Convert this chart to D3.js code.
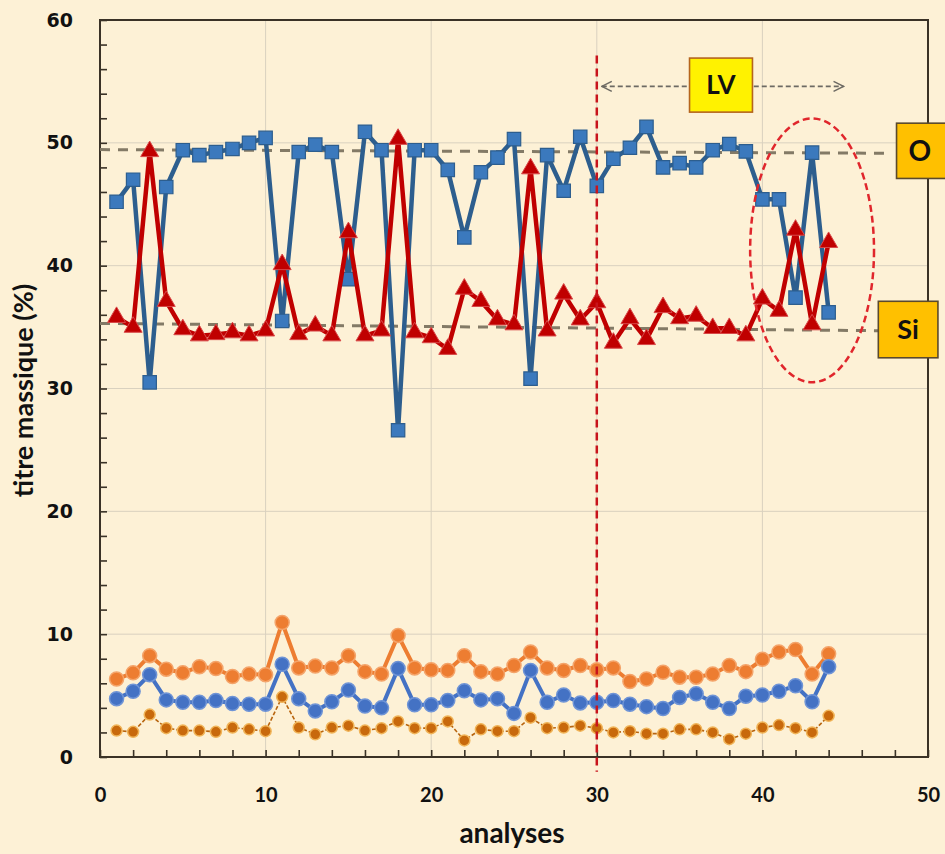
<!DOCTYPE html>
<html lang="fr">
<head>
<meta charset="UTF-8">
<title>titre massique</title>
<script src="https://cdn.jsdelivr.net/npm/d3@7"></script>
<style>
  body { margin: 0; background: #fdf1d6; }
  svg { display: block; }
</style>
</head>
<body>
<div id="chart"></div>
<script>
// numero d'analyse
const analyses = d3.range(1, 45);

// O et Si (haut du graphe)
const oxygene = [45.2, 47.0, 30.5, 46.4, 49.4, 49.0, 49.25, 49.5, 50.0, 50.4, 35.5, 49.25, 49.85, 49.25, 38.9,
  50.9, 49.4, 26.6, 49.4, 49.4, 47.8, 42.3, 47.6, 48.8, 50.3, 30.8, 49.0, 46.1, 50.5, 46.5,
  48.7, 49.6, 51.3, 48.0, 48.35, 48.0, 49.4, 49.9, 49.3, 45.4, 45.4, 37.4, 49.2, 36.2];
const silicium = [35.8, 35.0, 49.3, 37.1, 34.8, 34.3, 34.4, 34.55, 34.3, 34.7, 40.1, 34.4, 35.1, 34.3, 42.7,
  34.3, 34.7, 50.3, 34.55, 34.15, 33.2, 38.1, 37.1, 35.6, 35.2, 47.9, 34.7, 37.7, 35.6, 37.0,
  33.7, 35.7, 34.0, 36.6, 35.7, 35.9, 34.9, 34.9, 34.3, 37.3, 36.3, 42.9, 35.2, 41.9];

// les trois series du bas
const serieOrange = [6.35, 6.85, 8.25, 7.15, 6.85, 7.35, 7.2, 6.55, 6.75, 6.7, 10.95, 7.25, 7.4, 7.25, 8.25,
  6.95, 6.75, 9.9, 7.25, 7.1, 7.05, 8.25, 6.95, 6.75, 7.45, 8.55, 7.25, 7.05, 7.45, 7.1,
  7.25, 6.15, 6.35, 6.9, 6.5, 6.5, 6.75, 7.45, 6.95, 7.95, 8.55, 8.75, 6.75, 8.4];
const serieBleue = [4.75, 5.35, 6.7, 4.65, 4.45, 4.45, 4.6, 4.35, 4.3, 4.3, 7.55, 4.75, 3.75, 4.5, 5.45,
  4.15, 4.0, 7.2, 4.25, 4.25, 4.6, 5.4, 4.65, 4.75, 3.55, 7.05, 4.45, 5.05, 4.4, 4.45,
  4.6, 4.3, 4.1, 3.95, 4.85, 5.15, 4.45, 3.95, 4.95, 5.05, 5.35, 5.8, 4.5, 7.35];
const serieBrune = [2.15, 2.05, 3.45, 2.35, 2.15, 2.15, 2.05, 2.4, 2.25, 2.1, 4.9, 2.4, 1.85, 2.4, 2.55,
  2.15, 2.35, 2.9, 2.35, 2.35, 2.9, 1.35, 2.25, 2.1, 2.1, 3.2, 2.35, 2.4, 2.55, 2.35,
  2.0, 2.1, 1.9, 1.9, 2.25, 2.25, 2.0, 1.45, 1.9, 2.4, 2.6, 2.35, 2.0, 3.35];

const xTicks = [0, 10, 20, 30, 40, 50];
const yTicks = [0, 10, 20, 30, 40, 50, 60];

// lignes moyennes (tirets gris)
const tendanceO = [[0, 49.45], [47.8, 49.15]];
const tendanceSi = [[0, 35.3], [47.3, 34.7]];
// limite LV
const limiteLV = [[30, 57.1], [30, -1.2]];
const flecheLV = [[30.3, 54.6], [44.9, 54.6]];
const boiteLV = {x0: 35.6, x1: 39.4, y0: 52.5, y1: 56.9, label: "LV"};
const boiteO = {x0: 48.1, x1: 51.5, y0: 47.1, y1: 51.6, label: "O"};
const boiteSi = {x0: 47.0, x1: 50.6, y0: 32.5, y1: 37.1, label: "Si"};
const ellipse = {cx: 43.0, cy: 41.25, rx: 3.74, ry: 10.74};

const w = 945;
const h = 854;
const mLeft = 100, mRight = 928, mTop = 20, mBottom = 757;

const x = d3.scaleLinear().domain([0, 50]).range([mLeft, mRight]);
const y = d3.scaleLinear().domain([0, 60]).range([mBottom, mTop]);

const svg = d3.select("#chart").append("svg")
  .attr("width", w)
  .attr("height", h);

svg.append("rect").attr("width", w).attr("height", h).attr("fill", "#fdf1d6");

// grille
svg.append("g").selectAll("line")
  .data(xTicks.slice(1, -1))
  .join("line")
  .attr("x1", d => x(d)).attr("x2", d => x(d))
  .attr("y1", mTop).attr("y2", mBottom)
  .attr("stroke", "#d9d1bf").attr("stroke-width", 1);
svg.append("g").selectAll("line")
  .data(yTicks.slice(1, -1))
  .join("line")
  .attr("x1", mLeft).attr("x2", mRight)
  .attr("y1", d => y(d)).attr("y2", d => y(d))
  .attr("stroke", "#d9d1bf").attr("stroke-width", 1);

// axes
const xAxis = d3.axisBottom(x)
  .tickValues(d3.range(0, 51, 2))
  .tickSizeInner(-7).tickSizeOuter(0)
  .tickPadding(31)
  .tickFormat(d => d % 10 === 0 ? d : "");
const yAxis = d3.axisLeft(y)
  .tickValues(d3.range(0, 61, 2))
  .tickSizeInner(-7).tickSizeOuter(0)
  .tickPadding(27)
  .tickFormat(d => d % 10 === 0 ? d : "");

const gx = svg.append("g").attr("transform", "translate(0," + mBottom + ")").call(xAxis);
const gy = svg.append("g").attr("transform", "translate(" + mLeft + ",0)").call(yAxis);
gx.select(".domain").remove();
gy.select(".domain").remove();
gx.selectAll("line").attr("stroke", "#3a3226").attr("stroke-width", 1.6);
gy.selectAll("line").attr("stroke", "#3a3226").attr("stroke-width", 1.6);
gx.selectAll("text")
  .attr("font-family", "Lato, sans-serif").attr("font-weight", "bold")
  .attr("font-size", 20).attr("fill", "#111");
gy.selectAll("text")
  .attr("font-family", "'DejaVu Sans', sans-serif").attr("font-weight", "bold")
  .attr("font-size", 19).attr("fill", "#111");

// cadre
svg.append("rect")
  .attr("x", mLeft).attr("y", mTop)
  .attr("width", mRight - mLeft).attr("height", mBottom - mTop)
  .attr("fill", "none").attr("stroke", "#3a3226").attr("stroke-width", 2);

// titres
svg.append("text")
  .attr("x", (mLeft + mRight) / 2 - 2).attr("y", 843)
  .attr("text-anchor", "middle")
  .attr("font-family", "Lato, sans-serif").attr("font-weight", "bold")
  .attr("font-size", 28).attr("fill", "#111")
  .text("analyses");
svg.append("text")
  .attr("transform", "translate(33," + ((mTop + mBottom) / 2 + 2) + ") rotate(-90)")
  .attr("text-anchor", "middle")
  .attr("font-family", "Lato, sans-serif").attr("font-weight", "bold")
  .attr("font-size", 27).attr("fill", "#111")
  .text("titre massique (%)");

const line = d3.line().x(d => x(d[0])).y(d => y(d[1]));
const pts = vals => analyses.map((a, i) => [a, vals[i]]);

// tendances
[tendanceO, tendanceSi].forEach(t => {
  svg.append("path").attr("d", line(t))
    .attr("fill", "none").attr("stroke", "#837a66")
    .attr("stroke-width", 3).attr("stroke-dasharray", "10,8");
});

// series du bas
function serieRonds(vals, color, width, r, fill, stroke, dash) {
  const g = svg.append("g");
  g.append("path").attr("d", line(pts(vals)))
    .attr("fill", "none").attr("stroke", color)
    .attr("stroke-width", width)
    .attr("stroke-dasharray", dash || null)
    .attr("stroke-linejoin", "round");
  g.selectAll("circle").data(pts(vals)).join("circle")
    .attr("cx", d => x(d[0])).attr("cy", d => y(d[1]))
    .attr("r", r).attr("fill", fill)
    .attr("stroke", stroke).attr("stroke-width", 1.5);
}
serieRonds(serieOrange, "#ed7d31", 4, 7, "#ed7d31", "#f4a46a");
serieRonds(serieBleue, "#4472c4", 4, 7, "#4472c4", "#6f94d6");
serieRonds(serieBrune, "#b8650f", 1.6, 5.5, "#c8690c", "#f0b458", "4,2");

// O : carres bleus
const gO = svg.append("g");
gO.append("path").attr("d", line(pts(oxygene)))
  .attr("fill", "none").attr("stroke", "#2d5e8e").attr("stroke-width", 4.5)
  .attr("stroke-linejoin", "round");
gO.selectAll("path.m").data(pts(oxygene)).join("path")
  .attr("class", "m")
  .attr("transform", d => "translate(" + x(d[0]) + "," + y(d[1]) + ")")
  .attr("d", d3.symbol(d3.symbolSquare, 180))
  .attr("fill", "#3b79bd").attr("stroke", "#2d5e8e").attr("stroke-width", 1.2);

// Si : triangles rouges
const gSi = svg.append("g");
gSi.append("path").attr("d", line(pts(silicium)))
  .attr("fill", "none").attr("stroke", "#c00000").attr("stroke-width", 4.5)
  .attr("stroke-linejoin", "round");
gSi.selectAll("path.m").data(pts(silicium)).join("path")
  .attr("class", "m")
  .attr("transform", d => "translate(" + x(d[0]) + "," + y(d[1]) + ")")
  .attr("d", d3.symbol(d3.symbolTriangle, 140))
  .attr("fill", "#c00000").attr("stroke", "#d84848").attr("stroke-width", 1);

// limite LV
svg.append("path").attr("d", line(limiteLV))
  .attr("fill", "none").attr("stroke", "#c8141c")
  .attr("stroke-width", 2.5).attr("stroke-dasharray", "8,5");

// ellipse rouge
svg.append("ellipse")
  .attr("cx", x(ellipse.cx)).attr("cy", y(ellipse.cy))
  .attr("rx", x(ellipse.rx) - x(0)).attr("ry", y(0) - y(ellipse.ry))
  .attr("fill", "none").attr("stroke", "#e0262c")
  .attr("stroke-width", 2.5).attr("stroke-dasharray", "7,4");

// fleche LV
const defs = svg.append("defs");
["debut", "fin"].forEach((id, k) => {
  defs.append("marker")
    .attr("id", id).attr("viewBox", "0 0 12 12")
    .attr("refX", k ? 11 : 1).attr("refY", 6)
    .attr("markerWidth", 12).attr("markerHeight", 12)
    .attr("markerUnits", "userSpaceOnUse")
    .attr("orient", "auto")
    .append("path")
    .attr("d", k ? "M1,1 L11,6 L1,11" : "M11,1 L1,6 L11,11")
    .attr("fill", "none").attr("stroke", "#6d6a63").attr("stroke-width", 1.5);
});
svg.append("path").attr("d", line(flecheLV))
  .attr("fill", "none").attr("stroke", "#6d6a63")
  .attr("stroke-width", 1.6).attr("stroke-dasharray", "5,3")
  .attr("marker-start", "url(#debut)").attr("marker-end", "url(#fin)");

// etiquettes
function boite(b, fill, stroke, size) {
  svg.append("rect")
    .attr("x", x(b.x0)).attr("y", y(b.y1))
    .attr("width", x(b.x1) - x(b.x0)).attr("height", y(b.y0) - y(b.y1))
    .attr("fill", fill).attr("stroke", stroke).attr("stroke-width", 1.6);
  svg.append("text")
    .attr("x", x((b.x0 + Math.min(b.x1, 50.9)) / 2)).attr("y", y((b.y0 + b.y1) / 2))
    .attr("dy", "0.36em").attr("text-anchor", "middle")
    .attr("font-family", "Lato, sans-serif").attr("font-weight", "bold")
    .attr("font-size", size).attr("fill", "#111")
    .text(b.label);
}
boite(boiteLV, "#fff200", "#b5651d", 26);
boite(boiteO, "#ffc000", "#5b4a2c", 28);
boite(boiteSi, "#ffc000", "#5b4a2c", 27);
</script>
</body>
</html>
